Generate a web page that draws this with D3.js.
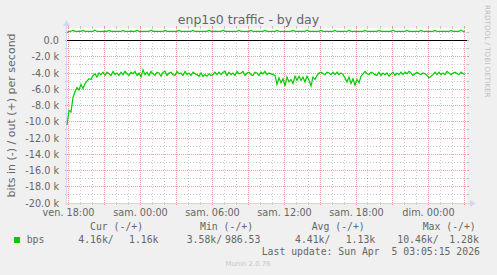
<!DOCTYPE html>
<html>
<head>
<meta charset="utf-8">
<script src="https://cdn.jsdelivr.net/npm/d3@7"></script>
<style>
  body { margin: 0; background: #f0f0f0; }
  svg { display: block; }
  text { font-family: "DejaVu Sans", sans-serif; fill: #666; }
  .mono { font-family: "DejaVu Sans Mono", monospace; white-space: pre; }
</style>
</head>
<body>
<div class="canvas"></div>
<script>
// ---- data (kbit/s, one sample every 10 minutes, starting ven. 17:55) ----
const startTime = Date.UTC(2026, 3, 3, 17, 55);
const stepMin = 10;

// in (drawn below zero)
const inValues = [
  10.4, 8.6, 8.8, 7.0, 6.3, 5.8, 6.1, 5.4, 5.9, 5.3, 5.0, 4.7, 4.8, 4.3, 4.1, 4.5, 4.0,
  4.2, 3.9, 4.3, 3.9, 4.1, 4.3, 3.8, 4.2, 4.0, 4.3, 3.9, 4.2, 3.8, 4.1, 4.3, 3.9, 4.1, 3.8, 4.3, 4.0,
  4.5, 3.6, 4.2, 3.9, 4.3, 3.8, 4.1, 4.3, 3.9, 4.0, 4.4, 3.9, 3.8, 4.3, 4.0, 3.9, 4.2, 4.3, 3.8, 4.1,
  4.0, 4.3, 3.8, 4.2, 4.0, 4.3, 3.9, 4.1, 4.2, 4.4, 4.0, 4.4, 4.2, 4.4, 4.1, 4.3, 4.2, 3.9, 4.2, 3.9,
  4.2, 3.9, 3.8, 4.3, 3.9, 4.2, 4.0, 4.3, 3.8, 4.1, 4.0, 3.8, 4.3, 4.0, 3.9, 4.2, 4.3, 3.9, 4.0, 4.3,
  3.9, 4.1, 3.8, 4.2, 4.0, 4.1, 4.2,
  4.3, 5.4, 4.6, 5.2, 4.7, 5.6, 4.5, 5.1, 4.8, 5.3, 4.4, 4.9, 4.4, 4.9, 4.5, 5.1, 4.4, 4.9, 5.6, 4.5,
  4.8, 4.3,
  4.0, 3.9, 4.1, 4.2, 3.9, 4.0, 4.2, 3.9, 4.2, 3.9, 4.2, 4.0, 4.2,
  4.6, 5.1, 4.5, 5.3, 4.7, 5.5, 4.8, 5.2, 4.4,
  4.1, 3.8, 4.1, 4.2, 3.9, 4.0, 4.2, 4.3, 3.9, 4.3,
  4.0, 4.2, 4.0, 4.4, 4.1, 3.9, 4.3, 4.0, 4.2, 3.9,
  4.2, 3.9, 4.1, 3.8, 4.0, 4.3, 4.1, 3.9, 4.1, 4.2,
  4.0, 4.1, 4.3, 4.6, 4.4, 4.2, 3.9, 4.2, 3.9, 4.2,
  4.0, 4.2, 3.8, 4.0, 4.2, 4.0, 3.9, 4.1, 4.2, 3.9,
  4.1, 4.16
];

// out (drawn above zero)
const outValues = [
  0.99, 1.12, 1.14, 1.25, 1.13, 1.12, 1.15, 1.12, 1.24, 1.13,
  1.12, 1.14, 1.12, 1.13, 1.26, 1.12, 1.14, 1.13, 1.12, 1.15,
  1.13, 1.24, 1.12, 1.13, 1.12, 1.14, 1.13, 1.12, 1.25, 1.13,
  1.12, 1.13, 1.15, 1.12, 1.13, 1.24, 1.12, 1.13, 1.12, 1.14,
  1.13, 1.12, 1.26, 1.13, 1.12, 1.14, 1.12, 1.13, 1.12, 1.25,
  1.13, 1.12, 1.14, 1.13, 1.12, 1.13, 1.24, 1.12, 1.13, 1.12,
  1.14, 1.13, 1.12, 1.25, 1.12, 1.13, 1.12, 1.14, 1.13, 1.12,
  1.13, 1.24, 1.12, 1.13, 1.15, 1.12, 1.13, 1.12, 1.26, 1.13,
  1.12, 1.14, 1.13, 1.12, 1.13, 1.12, 1.24, 1.13, 1.12, 1.14,
  1.12, 1.13, 1.25, 1.12, 1.13, 1.12, 1.14, 1.13, 1.12, 1.24,
  1.13, 1.12, 1.14, 1.12, 1.13, 1.25, 1.12, 1.13, 1.12, 1.14,
  1.13, 1.12, 1.13, 1.24, 1.12, 1.14, 1.13, 1.12, 1.13, 1.12,
  1.26, 1.13, 1.12, 1.14, 1.12, 1.13, 1.12, 1.24, 1.13, 1.12,
  1.14, 1.13, 1.12, 1.13, 1.25, 1.12, 1.13, 1.12, 1.14, 1.13,
  1.12, 1.24, 1.13, 1.12, 1.14, 1.12, 1.13, 1.12, 1.13, 1.25,
  1.12, 1.13, 1.14, 1.12, 1.13, 1.12, 1.24, 1.13, 1.12, 1.14,
  1.13, 1.12, 1.13, 1.26, 1.12, 1.13, 1.14, 1.12, 1.13, 1.12,
  1.24, 1.13, 1.12, 1.14, 1.13, 1.12, 1.13, 1.25, 1.12, 1.13,
  1.12, 1.14, 1.13, 1.12, 1.24, 1.13, 1.12, 1.13, 1.14, 1.12,
  1.13, 1.12, 1.25, 1.13, 1.12, 1.14, 1.13, 1.28, 1.12, 1.16
];

const times = inValues.map((d, i) => new Date(startTime + i * stepMin * 60000));

// axis values
const yMajorTicks = d3.range(-20, 1, 2);
const yMinorTicks = d3.range(-19, 2, 1);
const dayNames = ['dim.', 'lun.', 'mar.', 'mer.', 'jeu.', 'ven.', 'sam.'];

// legend texts
const legendHeaders = ['Cur (-/+)', 'Min (-/+)', 'Avg (-/+)', 'Max (-/+)'];
const legendValues = ['4.16k/', '1.16k', '3.58k/', '986.53', '4.41k/', '1.13k', '10.46k/', '1.28k'];
const lastUpdate = 'Last update: Sun Apr  5 03:05:15 2026';

// ---- layout ----
const width = 497, height = 275;
const margin = { top: 28, left: 67 };
const graphWidth = 400, graphHeight = 175;
const gridMinor = 'rgba(140,140,140,0.45)';
const gridMajor = 'rgba(230,80,80,0.55)';
const axisColor = '#cfd6f8';
const lineColor = '#00cc00';

const svg = d3.select('.canvas')
  .append('svg')
  .attr('width', width)
  .attr('height', height);

svg.append('rect')
  .attr('width', width).attr('height', height)
  .attr('fill', '#f0f0f0');

// scales
const xScale = d3.scaleUtc()
  .domain([new Date(startTime), new Date(startTime + 400 * 5 * 60000)])
  .range([margin.left, margin.left + graphWidth]);

const yScale = d3.scaleLinear()
  .domain([-20, 1.54])
  .range([margin.top + graphHeight, margin.top]);

const px = v => Math.floor(v) + 0.5;

// canvas
svg.append('rect')
  .attr('x', margin.left).attr('y', margin.top)
  .attr('width', graphWidth).attr('height', graphHeight)
  .attr('fill', '#fff');

const grid = svg.append('g').attr('shape-rendering', 'crispEdges');
const x0 = margin.left, x1 = margin.left + graphWidth;
const yTop = margin.top, yBot = margin.top + graphHeight;

// horizontal grid
yMinorTicks.filter(v => v % 2 !== 0).forEach(v => {
  const y = px(yScale(v));
  grid.append('line').attr('x1', x0).attr('x2', x1).attr('y1', y).attr('y2', y)
    .attr('stroke', gridMinor).attr('stroke-dasharray', '1,2');
  grid.append('line').attr('x1', x0 - 2).attr('x2', x0).attr('y1', y).attr('y2', y).attr('stroke', gridMinor);
  grid.append('line').attr('x1', x1).attr('x2', x1 + 2).attr('y1', y).attr('y2', y).attr('stroke', gridMinor);
});
yMajorTicks.forEach(v => {
  const y = px(yScale(v));
  grid.append('line').attr('x1', x0).attr('x2', x1).attr('y1', y).attr('y2', y)
    .attr('stroke', gridMajor).attr('stroke-dasharray', '1,1');
  grid.append('line').attr('x1', x0 - 2).attr('x2', x0).attr('y1', y).attr('y2', y).attr('stroke', gridMajor);
  grid.append('line').attr('x1', x1).attr('x2', x1 + 2).attr('y1', y).attr('y2', y).attr('stroke', gridMajor);
});

// vertical grid
const hours = d3.utcHour.every(1).range(xScale.domain()[0], xScale.domain()[1]);
hours.forEach(t => {
  const major = t.getUTCHours() % 3 === 0;
  const x = px(xScale(t));
  const c = major ? gridMajor : gridMinor;
  grid.append('line').attr('x1', x).attr('x2', x).attr('y1', yTop).attr('y2', yBot)
    .attr('stroke', c).attr('stroke-dasharray', major ? '1,1' : '1,2');
  grid.append('line').attr('x1', x).attr('x2', x).attr('y1', yBot).attr('y2', yBot + 2).attr('stroke', c);
  grid.append('line').attr('x1', x).attr('x2', x).attr('y1', yTop - 2).attr('y2', yTop).attr('stroke', c);
});

// axes lines + arrows
grid.append('line').attr('x1', x0 - 0.5).attr('x2', x0 - 0.5).attr('y1', yBot + 2).attr('y2', yTop - 3)
  .attr('stroke', axisColor);
grid.append('line').attr('x1', x0 - 2).attr('x2', x1 + 4).attr('y1', yBot + 0.5).attr('y2', yBot + 0.5)
  .attr('stroke', axisColor);
svg.append('path')
  .attr('d', `M${x0 - 4},${yTop - 2} L${x0 - 0.5},${yTop - 8} L${x0 + 3},${yTop - 2} Z`)
  .attr('fill', axisColor);
svg.append('path')
  .attr('d', `M${x1 + 3},${yBot - 3} L${x1 + 9},${yBot + 0.5} L${x1 + 3},${yBot + 4} Z`)
  .attr('fill', axisColor);

// zero rule
grid.append('line').attr('x1', x0).attr('x2', x1)
  .attr('y1', px(yScale(0))).attr('y2', px(yScale(0)))
  .attr('stroke', '#000');

// series lines
const line = d3.line()
  .x((d, i) => xScale(times[i]))
  .y(d => yScale(d));

svg.append('path')
  .datum(inValues.map(v => -v))
  .attr('d', line)
  .attr('fill', 'none')
  .attr('stroke', lineColor)
  .attr('stroke-width', 1.2);

svg.append('path')
  .datum(outValues)
  .attr('d', line)
  .attr('fill', 'none')
  .attr('stroke', lineColor)
  .attr('stroke-width', 1.2);

// y axis labels
const yAxis = d3.axisLeft(yScale)
  .tickValues(yMajorTicks)
  .tickSize(0)
  .tickPadding(8)
  .tickFormat(d => d === 0 ? '0.0' : d.toFixed(1) + ' k');
const yAxisGroup = svg.append('g')
  .attr('transform', `translate(${x0},0)`)
  .call(yAxis);
yAxisGroup.select('.domain').remove();
yAxisGroup.selectAll('text')
  .attr('font-family', null)
  .style('font-size', '9.7px')
  .attr('fill', null);

// x axis labels
const xAxis = d3.axisBottom(xScale)
  .tickValues(hours.filter(t => t.getUTCHours() % 6 === 0))
  .tickSize(0)
  .tickPadding(6)
  .tickFormat(t => dayNames[t.getUTCDay()] + ' ' + d3.utcFormat('%H:%M')(t));
const xAxisGroup = svg.append('g')
  .attr('transform', `translate(0,${yBot})`)
  .call(xAxis);
xAxisGroup.select('.domain').remove();
xAxisGroup.selectAll('text')
  .attr('font-family', null)
  .style('font-size', '9.7px')
  .attr('fill', null);

// titles
svg.append('text')
  .attr('x', 248.5).attr('y', 24)
  .attr('text-anchor', 'middle')
  .style('font-size', '12.5px')
  .text('enp1s0 traffic - by day');

svg.append('text')
  .attr('transform', `translate(15,${(yTop + yBot) / 2}) rotate(-90)`)
  .attr('text-anchor', 'middle')
  .style('font-size', '11px')
  .text('bits in (-) / out (+) per second');

svg.append('text')
  .attr('transform', 'translate(485,5) rotate(90)')
  .attr('text-anchor', 'start')
  .style('font-size', '7.2px')
  .style('fill', '#c0c0c0')
  .text('RRDTOOL / TOBI OETIKER');

// legend
const headerX = [90, 200, 311.7, 422.7];
const valueX = [78.3, 129, 186.7, 225, 295, 345.7, 397.3, 449.3];

svg.selectAll('.hdr')
  .data(legendHeaders)
  .enter().append('text')
  .attr('class', 'mono')
  .attr('x', (d, i) => headerX[i]).attr('y', 230)
  .style('font-size', '9.8px')
  .text(d => d);

svg.append('rect')
  .attr('x', 14).attr('y', 237).attr('width', 6).attr('height', 6)
  .attr('fill', lineColor);

svg.append('text')
  .attr('class', 'mono')
  .attr('x', 26.7).attr('y', 243)
  .style('font-size', '9.8px')
  .text('bps');

svg.selectAll('.val')
  .data(legendValues)
  .enter().append('text')
  .attr('class', 'mono')
  .attr('x', (d, i) => valueX[i]).attr('y', 243)
  .style('font-size', '9.8px')
  .text(d => d);

svg.append('text')
  .attr('class', 'mono')
  .attr('x', 261.7).attr('y', 255)
  .style('font-size', '9.8px')
  .text(lastUpdate);

svg.append('text')
  .attr('x', 248).attr('y', 266)
  .attr('text-anchor', 'middle')
  .style('font-size', '6.9px')
  .style('fill', '#c8c8c8')
  .text('Munin 2.0.76');
</script>
</body>
</html>
